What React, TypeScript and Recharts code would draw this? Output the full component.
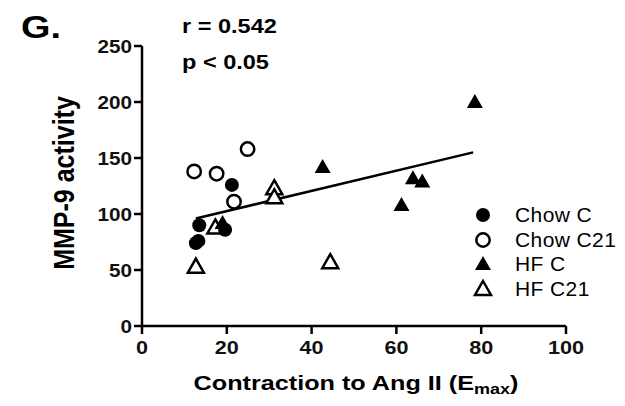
import { ScatterChart, Scatter, XAxis, YAxis, ReferenceLine, Legend } from "recharts";

document.body.style.margin = "0";

// points (x = Emax %, y = MMP-9 activity)
const chowC = [
  { x: 12.7, y: 74 },
  { x: 13.3, y: 76 },
  { x: 13.5, y: 90 },
  { x: 19.6, y: 86 },
  { x: 21.2, y: 126 },
];
const chowC21 = [
  { x: 12.3, y: 138 },
  { x: 17.6, y: 136 },
  { x: 24.9, y: 158 },
  { x: 21.7, y: 111 },
];
const hfC = [
  { x: 19.0, y: 92 },
  { x: 42.6, y: 142 },
  { x: 61.2, y: 108 },
  { x: 63.9, y: 132 },
  { x: 66.1, y: 129 },
  { x: 78.5, y: 200 },
];
const hfC21 = [
  { x: 12.7, y: 53 },
  { x: 17.3, y: 88 },
  { x: 31.2, y: 123 },
  { x: 31.2, y: 115 },
  { x: 44.4, y: 57 },
];
const fitLine = [
  { x: 12.7, y: 96 },
  { x: 78.1, y: 155 },
];
const xTicks = [0, 20, 40, 60, 80, 100];
const yTicks = [0, 50, 100, 150, 200, 250];
const seriesNames = ["Chow C", "Chow C21", "HF C", "HF C21"];

const FONT = "'Liberation Sans', Arial, sans-serif";

function FilledCircle(p: any) {
  return <circle cx={p.cx} cy={p.cy} r={7} fill="#000" />;
}
function OpenCircle(p: any) {
  return <circle cx={p.cx} cy={p.cy} r={6.7} fill="#fff" stroke="#000" strokeWidth={2.5} />;
}
function tri(cx: number, cy: number) {
  return `${cx},${cy - 8} ${cx + 8},${cy + 6} ${cx - 8},${cy + 6}`;
}
function FilledTriangle(p: any) {
  return <polygon points={tri(p.cx, p.cy)} fill="#000" />;
}
function OpenTriangle(p: any) {
  return <polygon points={tri(p.cx, p.cy)} fill="#fff" stroke="#000" strokeWidth={2.5} strokeLinejoin="miter" />;
}

const legendShapes = [FilledCircle, OpenCircle, FilledTriangle, OpenTriangle];

// the source figure is a bit wider than tall, so text gets stretched sideways
function XTick({ x, y, payload }: any) {
  return (
    <text
      transform={`translate(${x},${y + 18}) scale(1.2,1)`}
      textAnchor="middle"
      fill="#111"
      fontSize={18}
      fontWeight={700}
      fontFamily={FONT}
    >
      {payload.value}
    </text>
  );
}
function YTick({ x, y, payload }: any) {
  return (
    <text
      transform={`translate(${x},${y + 6.5}) scale(1.15,1)`}
      textAnchor="end"
      fill="#111"
      fontSize={18}
      fontWeight={700}
      fontFamily={FONT}
    >
      {payload.value}
    </text>
  );
}

function LegendBox() {
  return (
    <div style={{ fontFamily: FONT, fontSize: 21, letterSpacing: 0.4 }}>
      {seriesNames.map((name, i) => {
        const Shape = legendShapes[i];
        return (
          <div key={name} style={{ display: "flex", alignItems: "center", height: 24.5 }}>
            <svg width={20} height={20} style={{ marginRight: 22 }}>
              <Shape cx={10} cy={10} />
            </svg>
            <span>{name}</span>
          </div>
        );
      })}
    </div>
  );
}

export default function App() {
  return (
    <div style={{ position: "relative", width: 625, height: 406, background: "#fff", fontFamily: FONT }}>
      <ScatterChart width={625} height={406} margin={{ top: 46, right: 59, bottom: 45, left: 80 }}>
        <XAxis
          type="number"
          dataKey="x"
          domain={[0, 100]}
          ticks={xTicks}
          tickSize={8}
          tickMargin={2}
          height={35}
          axisLine={{ stroke: "#000", strokeWidth: 2.5 }}
          tickLine={{ stroke: "#000", strokeWidth: 2.5 }}
          tick={XTick}
        />
        <YAxis
          type="number"
          dataKey="y"
          domain={[0, 250]}
          ticks={yTicks}
          tickSize={8}
          tickMargin={2}
          width={62}
          axisLine={{ stroke: "#000", strokeWidth: 2.5 }}
          tickLine={{ stroke: "#000", strokeWidth: 2.5 }}
          tick={YTick}
        />
        <ReferenceLine segment={fitLine} stroke="#000" strokeWidth={2.5} ifOverflow="visible" />
        <Scatter name="Chow C21" data={chowC21} shape={OpenCircle} isAnimationActive={false} />
        <Scatter name="HF C21" data={hfC21} shape={OpenTriangle} isAnimationActive={false} />
        <Scatter name="Chow C" data={chowC} shape={FilledCircle} isAnimationActive={false} />
        <Scatter name="HF C" data={hfC} shape={FilledTriangle} isAnimationActive={false} />
        <Legend
          layout="vertical"
          align="center"
          verticalAlign="middle"
          content={LegendBox}
          wrapperStyle={{ top: 203, left: 473, width: 150, height: 100 }}
        />
      </ScatterChart>

      <div
        style={{
          position: "absolute",
          left: 21,
          top: 10,
          fontSize: 31,
          fontWeight: 700,
          transform: "scaleX(1.22)",
          transformOrigin: "left top",
        }}
      >
        G.
      </div>
      <div
        style={{
          position: "absolute",
          left: 182,
          top: 14,
          fontSize: 21,
          fontWeight: 700,
          lineHeight: "24px",
          transform: "scaleX(1.12)",
          transformOrigin: "left top",
        }}
      >
        r = 0.542
      </div>
      <div
        style={{
          position: "absolute",
          left: 182,
          top: 50,
          fontSize: 21,
          fontWeight: 700,
          lineHeight: "24px",
          transform: "scaleX(1.12)",
          transformOrigin: "left top",
        }}
      >
        p &lt; 0.05
      </div>
      <div
        style={{
          position: "absolute",
          left: 63,
          top: 183,
          fontSize: 25,
          fontWeight: 700,
          lineHeight: "28px",
          whiteSpace: "nowrap",
          transform: "translate(-50%, -50%) scaleX(1.2) rotate(-90deg)",
        }}
      >
        MMP-9 activity
      </div>
      <div
        style={{
          position: "absolute",
          left: 356,
          top: 371,
          fontSize: 21,
          fontWeight: 700,
          whiteSpace: "nowrap",
          transform: "translateX(-50%) scaleX(1.2)",
        }}
      >
        Contraction to Ang II (E<sub style={{ fontSize: 15, verticalAlign: -4 }}>max</sub>)
      </div>
    </div>
  );
}
